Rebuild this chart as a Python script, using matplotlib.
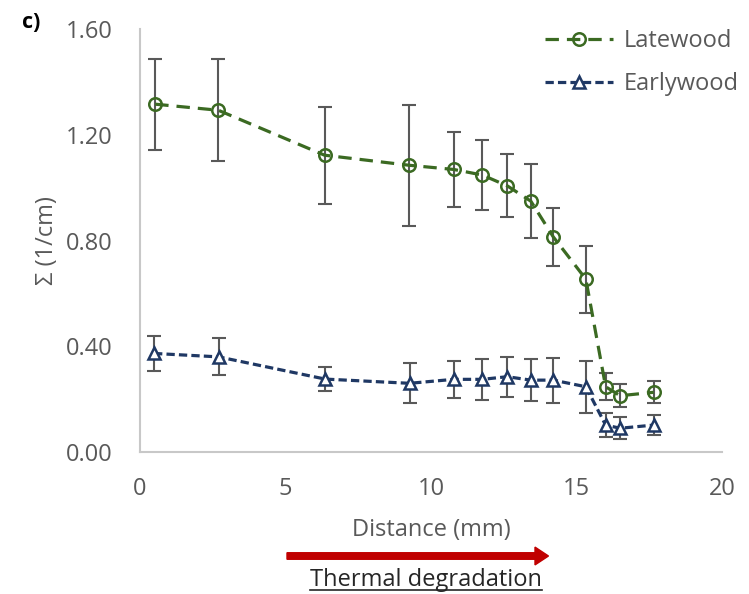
import matplotlib.pyplot as plt
from matplotlib.lines import Line2D
from matplotlib.patches import FancyArrow

plt.rcParams['font.family'] = ['Open Sans', 'DejaVu Sans']

# Distance (mm)
late_x = [0.52, 2.69, 6.34, 9.24, 10.78, 11.76, 12.62, 13.43, 14.2, 15.32, 16.0, 16.5, 17.65]
late_y = [1.316, 1.293, 1.123, 1.085, 1.069, 1.048, 1.007, 0.949, 0.814, 0.654, 0.247, 0.213, 0.226]
late_err = [0.172, 0.193, 0.183, 0.228, 0.142, 0.132, 0.119, 0.140, 0.111, 0.127, 0.052, 0.044, 0.041]

early_x = [0.48, 2.7, 6.36, 9.26, 10.78, 11.76, 12.62, 13.43, 14.2, 15.32, 16.0, 16.5, 17.65]
early_y = [0.373, 0.360, 0.276, 0.260, 0.275, 0.275, 0.285, 0.272, 0.272, 0.247, 0.102, 0.090, 0.102]
early_err = [0.066, 0.070, 0.046, 0.075, 0.071, 0.077, 0.075, 0.079, 0.085, 0.098, 0.047, 0.042, 0.038]

xticks = [0, 5, 10, 15, 20]
yticks = [0.0, 0.4, 0.8, 1.2, 1.6]

green = '#3b6a22'
navy = '#1f3864'
grey = '#595959'
fs = 17

fig = plt.figure(figsize=(7.49, 5.94), dpi=100)
ax = fig.add_axes([0.187, 0.239, 0.777, 0.712])

# error bars first, then lines with markers on top
ax.errorbar(late_x, late_y, yerr=late_err, fmt='none', ecolor=grey,
            elinewidth=1.5, capsize=4.7, capthick=1.5, zorder=2)
ax.errorbar(early_x, early_y, yerr=early_err, fmt='none', ecolor=grey,
            elinewidth=1.5, capsize=4.7, capthick=1.5, zorder=2)

ax.plot(late_x, late_y, color=green, lw=2.3, dashes=(4.2, 2.5),
        marker='o', ms=9, mfc='none', mec=green, mew=1.8,
        label='Latewood', zorder=3)
ax.plot(early_x, early_y, color=navy, lw=2.3, dashes=(2.6, 1.3),
        marker='^', ms=9, mfc='white', mec=navy, mew=1.8,
        label='Earlywood', zorder=3)

ax.set_xlim(0, 20)
ax.set_ylim(0, 1.6)
ax.set_xticks(xticks)
ax.set_yticks(yticks)
ax.set_yticklabels([f'{v:.2f}' for v in yticks])
ax.tick_params(length=0, labelsize=fs, colors=grey)
ax.tick_params(axis='x', pad=18)
ax.tick_params(axis='y', pad=19.5)

for s in ['top', 'right']:
    ax.spines[s].set_visible(False)
for s in ['left', 'bottom']:
    ax.spines[s].set_color('#c8c8c8')
    ax.spines[s].set_linewidth(1.5)

ax.set_xlabel('Distance (mm)', fontsize=fs, color=grey)
ax.xaxis.set_label_coords(0.5, -0.156)
ax.set_ylabel('Σ (1/cm)', fontsize=fs, color=grey)
ax.yaxis.set_label_coords(-0.14, 0.5)

leg = ax.legend(loc='upper left', bbox_to_anchor=(0.7276, 0.951),
                bbox_transform=fig.transFigure, frameon=False,
                fontsize=fs, handlelength=2.9, labelspacing=0.8,
                handletextpad=0.42, borderpad=0, borderaxespad=0,
                labelcolor=grey)

fig.text(22 / 749, 1 - 12 / 594, 'c)', fontsize=15.5, fontweight='bold',
         color='black', va='top')

# thermal degradation arrow
fig.patches.append(FancyArrow(
    287 / 749, 1 - 556 / 594, (535 - 287) / 749, 0, width=0.011,
    head_width=0.03, head_length=0.018, length_includes_head=False,
    color='#c00000', transform=fig.transFigure, figure=fig))

t = fig.text(426 / 749, 1 - 580 / 594, 'Thermal degradation', fontsize=fs,
             color='#262626', ha='center', va='center')
fig.canvas.draw()
bb = t.get_window_extent().transformed(fig.transFigure.inverted())
fig.lines.append(Line2D([bb.x0, bb.x1], [bb.y0 + 0.003, bb.y0 + 0.003],
                        color='#262626', lw=1.2, transform=fig.transFigure))

fig.savefig('out.png', dpi=100)
